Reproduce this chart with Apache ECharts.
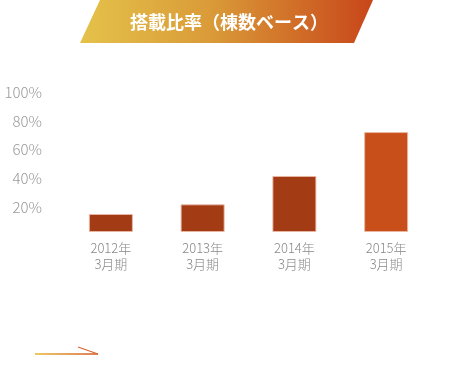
<!DOCTYPE html>
<html>
<head>
<meta charset="utf-8">
<script src="https://cdn.jsdelivr.net/npm/echarts@6/dist/echarts.min.js"></script>
<style>html,body{margin:0;padding:0;background:#fff}#c{width:450px;height:375px}</style>
</head>
<body>
<div id="c"></div>
<script>
var title = '搭載比率（棟数ベース）';
var categories = ['2012年\n3月期', '2013年\n3月期', '2014年\n3月期', '2015年\n3月期'];
var values = [12.5, 19.2, 38.9, 69.4];
var barColors = ['#A33B15', '#A33B15', '#A33B15', '#C94F1A'];
var yTicks = [20, 40, 60, 80, 100];

var chart = echarts.init(document.getElementById('c'), null, {renderer: 'canvas'});
chart.setOption({
  animation: false,
  grid: {left: 65, right: 18, top: 88, bottom: 143},
  xAxis: {
    type: 'category',
    data: categories,
    axisLine: {show: false},
    axisTick: {show: false},
    axisLabel: {color: '#888', fontSize: 13, lineHeight: 16, margin: 8, fontFamily: 'Noto Sans CJK JP', fontWeight: 300}
  },
  yAxis: {
    type: 'value',
    min: 0, max: 100, interval: 20,
    axisLine: {show: false},
    axisTick: {show: false},
    splitLine: {show: false},
    axisLabel: {
      color: '#999', fontSize: 15, margin: 23, verticalAlign: 'top', lineHeight: 8,
      fontFamily: 'Noto Sans CJK JP', fontWeight: 300,
      formatter: function (v) { return yTicks.indexOf(v) >= 0 ? v + '%' : ''; }
    }
  },
  series: [{
    type: 'bar',
    barWidth: 44,
    data: values.map(function (v, i) {
      return {value: v, itemStyle: {color: barColors[i]}};
    }),
    itemStyle: {borderColor: 'rgba(235,185,165,0.9)', borderWidth: 1}
  }],
  graphic: [
    {
      type: 'polygon',
      shape: {points: [[100, 0], [373, 0], [354, 43], [80, 43]]},
      style: {
        fill: new echarts.graphic.LinearGradient(0, 0, 1, 0, [
          {offset: 0, color: '#E4C24A'},
          {offset: 0.45, color: '#DA9A38'},
          {offset: 1, color: '#C8461A'}
        ])
      }
    },
    {
      type: 'text',
      x: 229, y: 22,
      style: {
        text: title, fill: '#fff', fontSize: 18, fontWeight: 'bold',
        fontFamily: 'Noto Sans CJK JP', align: 'center', verticalAlign: 'middle'
      }
    },
    {
      type: 'line',
      shape: {x1: 35, y1: 354, x2: 98, y2: 354},
      style: {
        lineWidth: 1.5,
        stroke: new echarts.graphic.LinearGradient(0, 0, 1, 0, [
          {offset: 0, color: '#E8B830'},
          {offset: 1, color: '#D2501E'}
        ])
      }
    },
    {
      type: 'line',
      shape: {x1: 78, y1: 347, x2: 98, y2: 354},
      style: {lineWidth: 1.2, stroke: '#D8652E'}
    }
  ]
});
</script>
</body>
</html>
